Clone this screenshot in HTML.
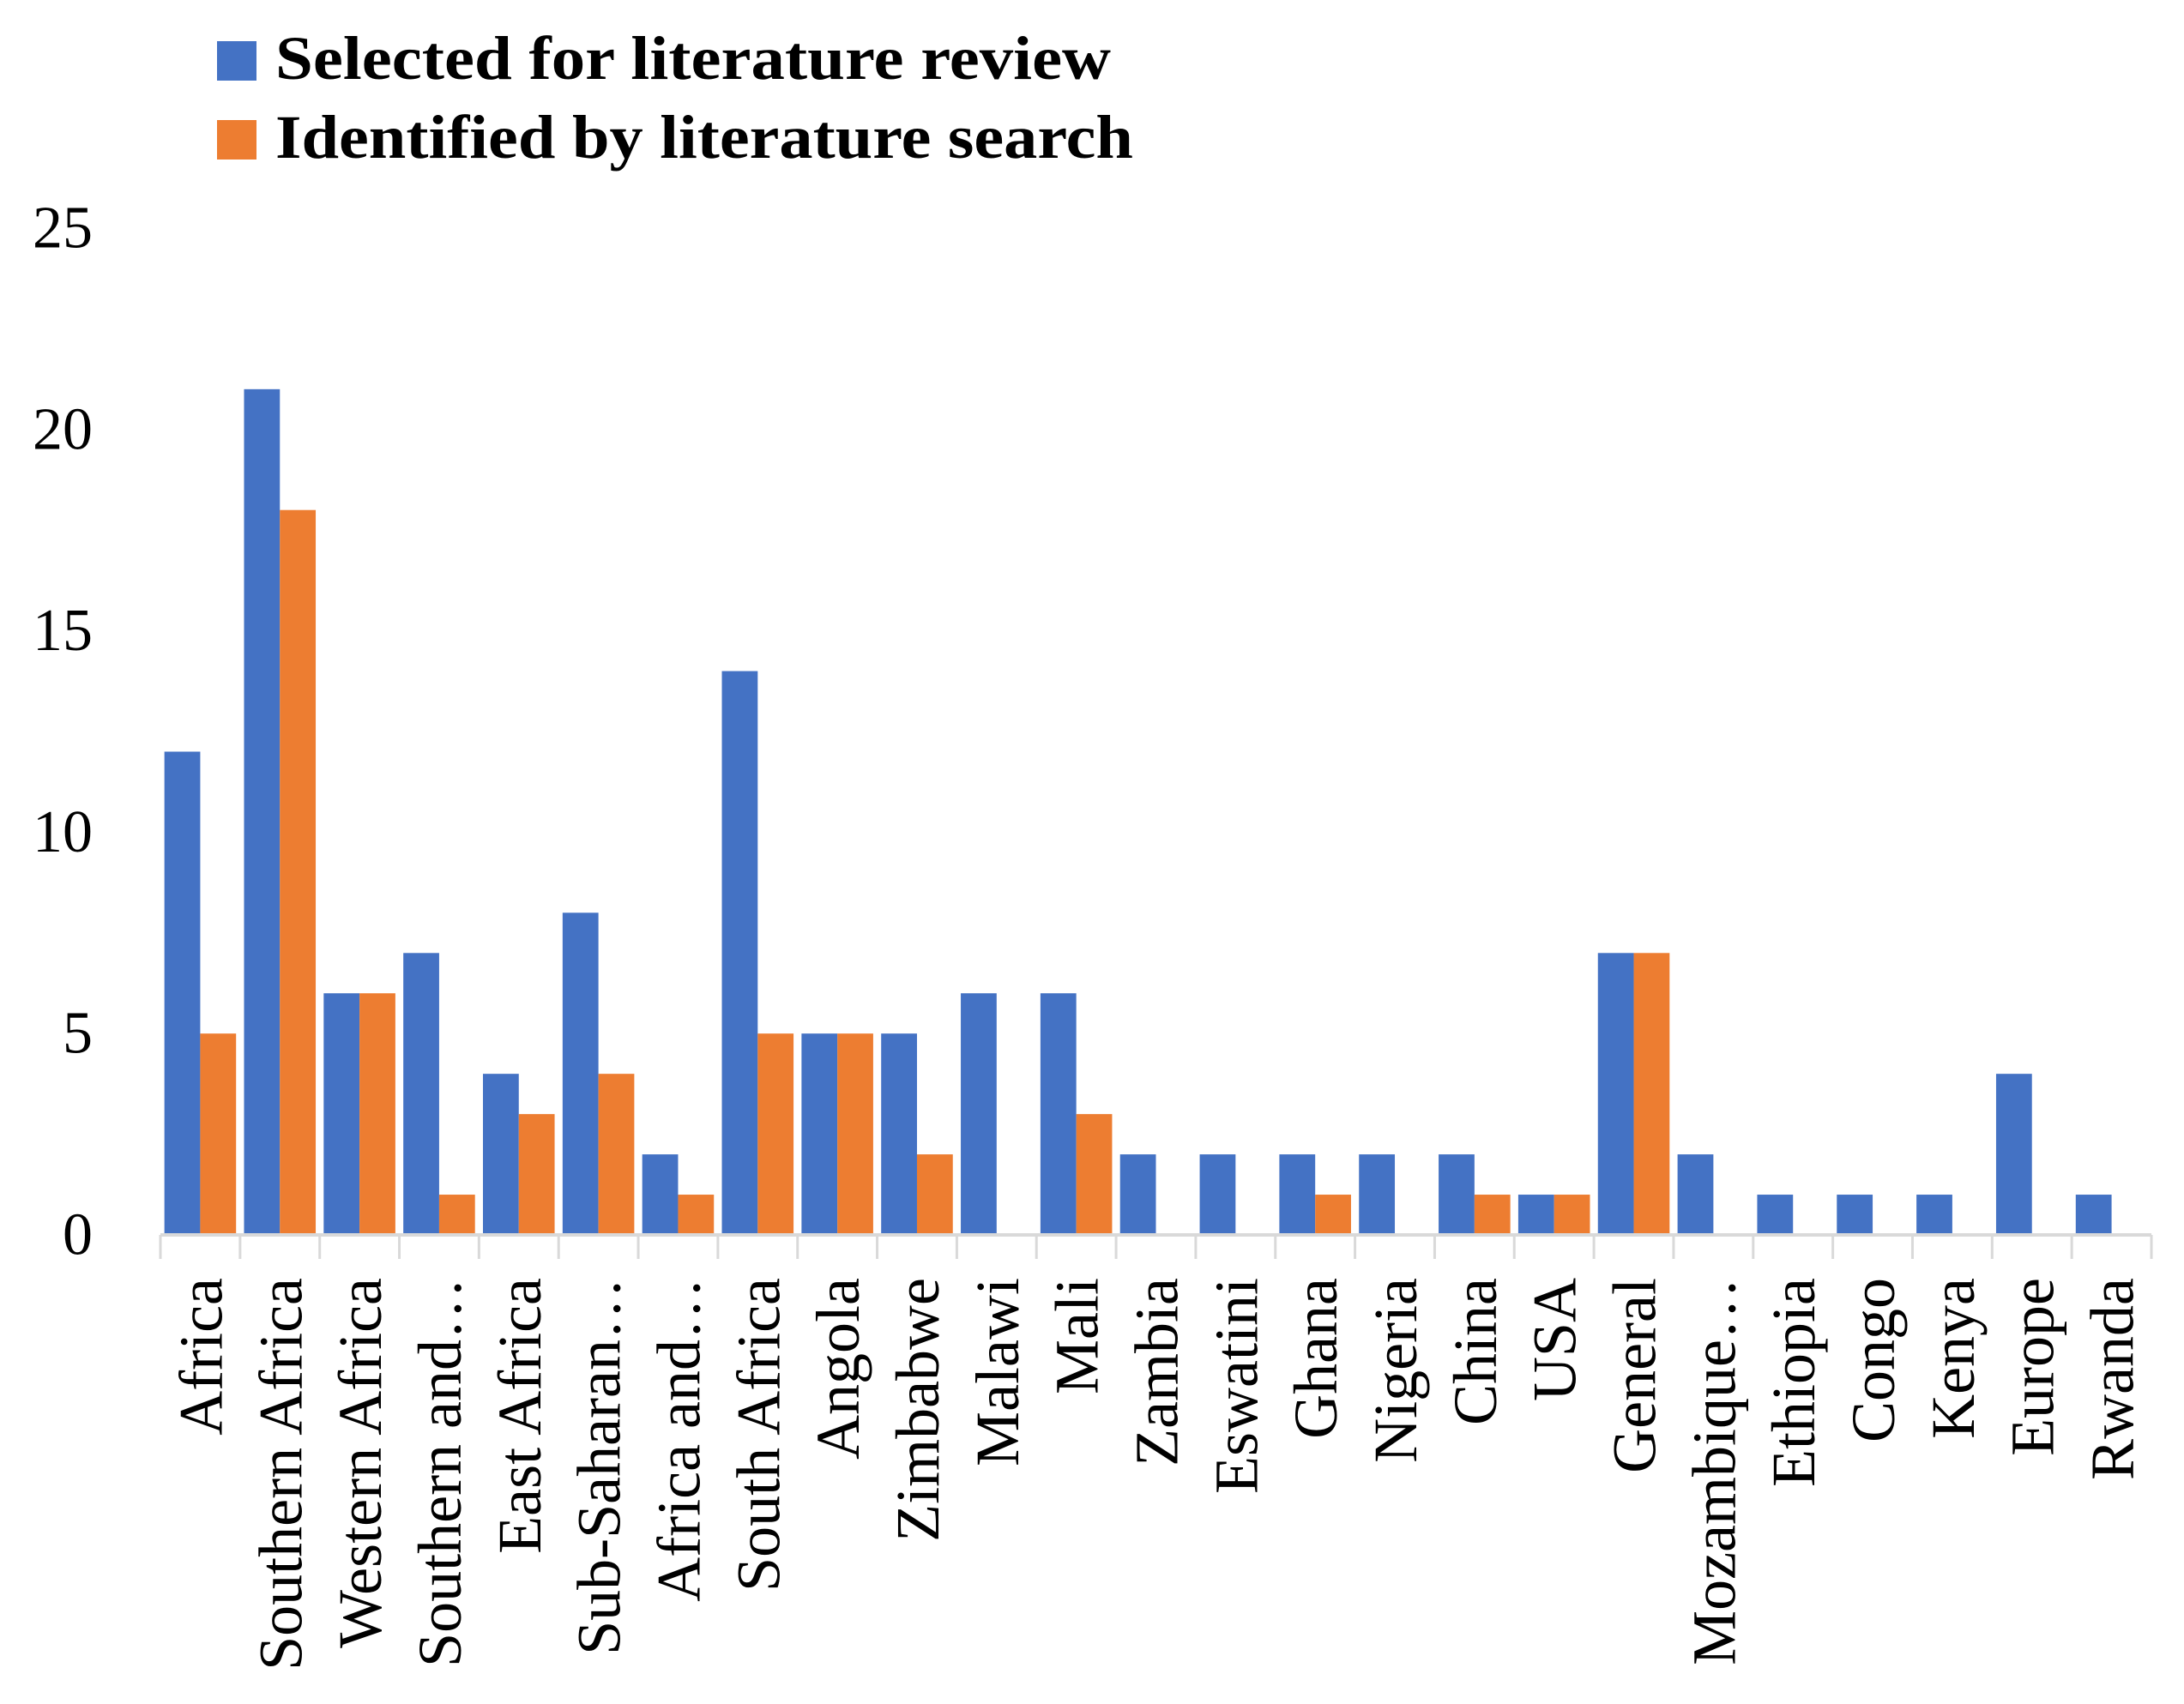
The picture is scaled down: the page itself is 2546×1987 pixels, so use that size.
<!DOCTYPE html>
<html><head><meta charset="utf-8"><style>
html,body{margin:0;padding:0;background:#fff;}
svg{display:block;}
text{font-family:"Liberation Serif",serif;fill:#000;}
</style></head><body>
<svg id="chart" width="2546" height="1987" viewBox="0 0 2546 1987" xmlns="http://www.w3.org/2000/svg">
<g>
<g>
<rect x="253" y="48" width="46" height="46" fill="#4472C4"/>
<text x="321" y="92" font-size="72" font-weight="bold" textLength="974" lengthAdjust="spacingAndGlyphs">Selected for literature review</text>
</g>
<g>
<rect x="253" y="140" width="46" height="46" fill="#ED7D31"/>
<text x="321" y="184" font-size="72" font-weight="bold" textLength="1000" lengthAdjust="spacingAndGlyphs">Identified by literature search</text>
</g>
</g>
<g id="yaxis"></g>
<g id="bars"></g>
<g id="xaxis"></g>
</svg>
<script>
const categories = ["Africa","Southern Africa","Western Africa","Southern and…","East Africa","Sub-Saharan…","Africa and…","South Africa","Angola","Zimbabwe","Malawi","Mali","Zambia","Eswatini","Ghana","Nigeria","China","USA","General","Mozambique…","Ethiopia","Congo","Kenya","Europe","Rwanda"];
const selectedValues = [12,21,6,7,4,8,2,14,5,5,6,6,2,2,2,2,2,1,7,2,1,1,1,4,1];
const identifiedValues = [5,18,6,1,3,4,1,5,5,2,0,3,0,0,1,0,1,1,7,0,0,0,0,0,0];
const yTicks = [0,5,10,15,20,25];

const NS = "http://www.w3.org/2000/svg";
const X0 = 187, X1 = 2508, Y0 = 1440, PX_PER_UNIT = 46.96;
const band = (X1 - X0) / categories.length;
const xScale = i => X0 + i * band;
const yScale = v => Y0 - v * PX_PER_UNIT;
function mk(tag, attrs, parent){const e=document.createElementNS(NS,tag);for(const k in attrs)e.setAttribute(k,attrs[k]);parent.appendChild(e);return e;}

const yG = document.getElementById('yaxis');
yTicks.forEach(t=>{
  const el = mk('text',{x:108,y:yScale(t),'font-size':70,'text-anchor':'end','dominant-baseline':'central'},yG);
  
  
  el.textContent = t;
});

const bG = document.getElementById('bars');
const bw = band * 0.45;
categories.forEach((c,i)=>{
  const start = xScale(i) + band*0.05;
  const b1 = mk('rect',{x:start,y:yScale(selectedValues[i]),width:bw,height:selectedValues[i]*PX_PER_UNIT,fill:'#4472C4'},bG);
  
  
  if(identifiedValues[i]>0){
    const b2 = mk('rect',{x:start+bw,y:yScale(identifiedValues[i]),width:bw,height:identifiedValues[i]*PX_PER_UNIT,fill:'#ED7D31'},bG);
    
    
  }
});

const xG = document.getElementById('xaxis');
const axisLine = mk('line',{x1:X0,y1:Y0,x2:X1,y2:Y0,stroke:'#d9d9d9','stroke-width':4},xG);


for(let i=0;i<=categories.length;i++){
  const tk = mk('line',{x1:xScale(i),y1:Y0,x2:xScale(i),y2:Y0+28,stroke:'#d9d9d9','stroke-width':3},xG);
  
  
}
categories.forEach((c,i)=>{
  const cx = xScale(i) + band/2 + 25;
  const cy = 1490;
  const el = mk('text',{x:cx,y:cy,'font-size':72,'text-anchor':'end',transform:`rotate(-90 ${cx} ${cy})`},xG);
  
  
  el.textContent = c;
});
</script>
</body></html>
